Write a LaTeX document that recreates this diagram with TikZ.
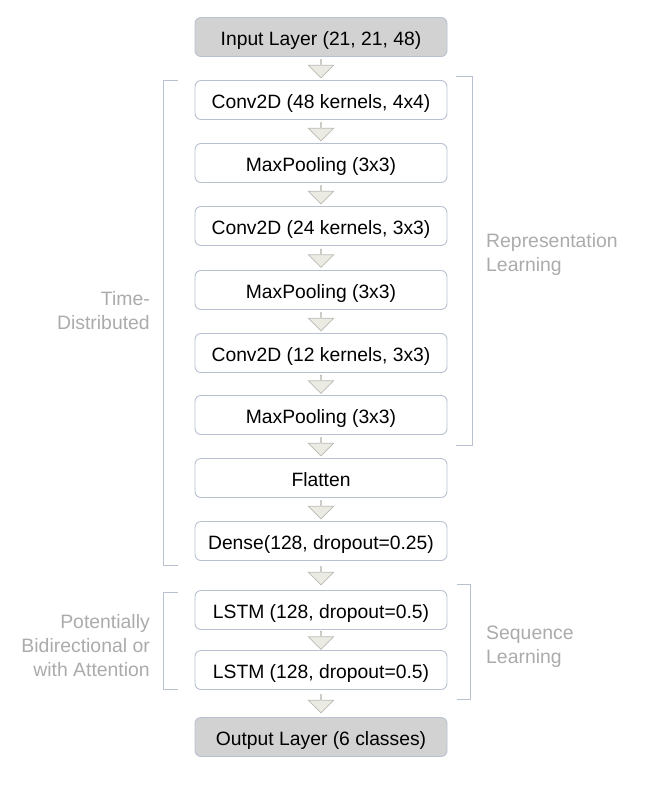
\documentclass[tikz,border=0pt]{standalone}
\usepackage{fontspec}
\setmainfont{Liberation Sans}
\usepackage{xcolor}
\usetikzlibrary{shapes.arrows,calc}

\definecolor{boxline}{HTML}{B9C1D0}
\definecolor{ioFill}{HTML}{D2D2D2}
\definecolor{arrowFill}{HTML}{EBEBE3}
\definecolor{arrowLine}{HTML}{BABAB5}
\definecolor{noteGray}{HTML}{ABABAB}

\tikzset{
  layer/.style={draw=boxline, line width=0.9pt, rounded corners=6pt, fill=white,
    minimum width=252pt, minimum height=39pt, inner sep=0pt,
    text height=17pt, text depth=0pt,
    font=\fontsize{19.3}{23}\selectfont},
  iolayer/.style={layer, fill=ioFill},
  flowarrow/.style={single arrow, draw=arrowLine, fill=arrowFill, line width=0.7pt,
    shape border rotate=270, minimum height=18pt, minimum width=25pt,
    single arrow head extend=6.5pt, inner sep=0pt},
  bracket/.style={draw=boxline, line width=1pt},
  note/.style={text=noteGray, font=\fontsize{19.4}{24}\selectfont, inner sep=0pt}
}

\begin{document}
\begin{tikzpicture}[x=1pt, y=-1pt]
    \useasboundingbox (0,0) rectangle (654,790);

    % Layers
    \node[iolayer] (input) at (321,37) {Input Layer (21, 21, 48)};
    \node[layer] (conv1) at (321,100) {Conv2D (48 kernels, 4x4)};
    \node[layer] (pool1) at (321,163) {MaxPooling (3x3)};
    \node[layer] (conv2) at (321,226) {Conv2D (24 kernels, 3x3)};
    \node[layer] (pool2) at (321,290) {MaxPooling (3x3)};
    \node[layer] (conv3) at (321,353) {Conv2D (12 kernels, 3x3)};
    \node[layer] (pool3) at (321,415) {MaxPooling (3x3)};
    \node[layer] (flat) at (321,478) {Flatten};
    \node[layer] (dense) at (321,541) {Dense(128, dropout=0.25)};
    \node[layer] (lstm1) at (321,610) {LSTM (128, dropout=0.5)};
    \node[layer] (lstm2) at (321,670) {LSTM (128, dropout=0.5)};
    \node[iolayer] (output) at (321,737) {Output Layer (6 classes)};

    % Arrows between layers
    \foreach \a/\b in {input/conv1, conv1/pool1, pool1/conv2, conv2/pool2,
                       pool2/conv3, conv3/pool3, pool3/flat, flat/dense,
                       dense/lstm1, lstm1/lstm2, lstm2/output}
        \node[flowarrow] (arr-\b) at ($(\a.south)!0.5!(\b.north)$) {};

    % Brackets
    \draw[bracket] (178,80) -- (163,80) -- (163,565) -- (178,565);
    \draw[bracket] (456,76) -- (472,76) -- (472,445) -- (456,445);
    \draw[bracket] (178,592) -- (163,592) -- (163,689) -- (178,689);
    \draw[bracket] (457,584) -- (470,584) -- (470,699) -- (457,699);

    % Labels
    \node[note, anchor=east, align=right] (timedist) at (150,311) {Time-\\Distributed};
    \node[note, anchor=west, align=left] (replearn) at (486,254) {Representation\\Learning};
    \node[note, anchor=east, align=right] (bidir) at (150,646) {Potentially\\Bidirectional or\\with Attention};
    \node[note, anchor=west, align=left] (seqlearn) at (486,647) {Sequence\\Learning};
\end{tikzpicture}
\end{document}
